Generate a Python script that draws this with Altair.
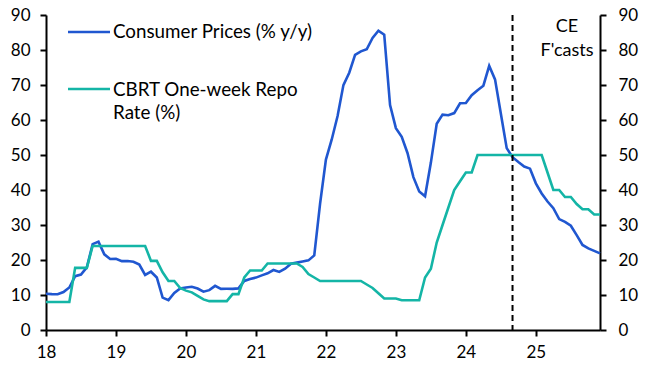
import altair as alt
import pandas as pd

years = [18, 19, 20, 21, 22, 23, 24, 25]

cpi = [
    10.35, 10.26, 10.23, 10.85, 12.15, 15.39, 15.85, 17.90, 24.52, 25.24, 21.62, 20.30,
    20.35, 19.67, 19.71, 19.50, 18.71, 15.72, 16.65, 15.01, 9.26, 8.55, 10.56, 11.84,
    12.15, 12.37, 11.86, 10.94, 11.39, 12.62, 11.76, 11.77, 11.75, 11.89, 14.03, 14.60,
    14.97, 15.61, 16.19, 17.14, 16.59, 17.53, 18.95, 19.25, 19.58, 19.89, 21.31, 36.08,
    48.69, 54.44, 61.14, 69.97, 73.50, 78.62, 79.60, 80.21, 83.45, 85.51, 84.39, 64.27,
    57.68, 55.18, 50.51, 43.68, 39.59, 38.21, 47.83, 58.94, 61.53, 61.36, 61.98, 64.77,
    64.86, 67.07, 68.50, 69.80, 75.45, 71.60, 61.78, 51.97, 49.38, 48.0, 46.7, 46.1,
    41.9, 39.0, 36.7, 34.8, 31.7, 30.9, 29.8, 27.1, 24.3, 23.3, 22.6, 21.9,
]

rate = [
    8, 8, 8, 8, 8, 17.75, 17.75, 17.75, 24, 24, 24, 24,
    24, 24, 24, 24, 24, 24, 19.75, 19.75, 16.5, 14, 14, 12,
    11.25, 10.75, 9.75, 8.75, 8.25, 8.25, 8.25, 8.25, 10.25, 10.25, 15, 17,
    17, 17, 19, 19, 19, 19, 19, 19, 18, 16, 15, 14,
    14, 14, 14, 14, 14, 14, 14, 13, 12, 10.5, 9, 9,
    9, 8.5, 8.5, 8.5, 8.5, 15, 17.5, 25, 30, 35, 40, 42.5,
    45, 45, 50, 50, 50, 50, 50, 50, 50, 50, 50, 50,
    50, 50, 45, 40, 40, 38, 38, 36, 34.5, 34.5, 33, 33,
]

forecast_start = 24 + 8 / 12  # Sep 2024

t = [18 + i / 12 for i in range(len(cpi))]
df = pd.DataFrame({"t": t, "cpi": cpi, "rate": rate})

FONT = "Lato"
BLUE = "#2057D0"
TEAL = "#14B5A6"

xscale = alt.Scale(domain=[18, 18 + 95 / 12], nice=False, zero=False)
yscale = alt.Scale(domain=[0, 90], nice=False)

xaxis = alt.Axis(values=years, format="d", title=None, grid=False, domainColor="black",
                 domainWidth=2, tickColor="black", tickWidth=2, tickSize=6,
                 labelFont=FONT, labelFontSize=17, labelColor="black", labelPadding=8,
                 labelFlush=False)

def yaxis(orient, pad):
    return alt.Axis(orient=orient, values=list(range(0, 91, 10)), title=None, grid=False,
                    domainColor="black", domainWidth=2, tickColor="black", tickWidth=2,
                    tickSize=6, labelFont=FONT, labelFontSize=17, labelColor="black",
                    labelPadding=pad)

base = alt.Chart(df)

cpi_line = base.mark_line(color=BLUE, strokeWidth=2.6).encode(
    x=alt.X("t:Q", scale=xscale, axis=xaxis),
    y=alt.Y("cpi:Q", scale=yscale, axis=yaxis("left", 10)),
)
rate_line = base.mark_line(color=TEAL, strokeWidth=2.6).encode(
    x=alt.X("t:Q", scale=xscale),
    y=alt.Y("rate:Q", scale=yscale, axis=yaxis("right", 12)),
)

vline = alt.Chart(pd.DataFrame({"t": [forecast_start]})).mark_rule(
    color="black", strokeWidth=2, strokeDash=[6, 4]
).encode(x=alt.X("t:Q", scale=xscale), y=alt.value(0), y2=alt.value(315))

# in-chart legend
leg1 = alt.Chart(pd.DataFrame({"a": [0]})).mark_rule(color=BLUE, strokeWidth=2.6).encode(
    x=alt.value(22), x2=alt.value(64), y=alt.value(17))
leg2 = alt.Chart(pd.DataFrame({"a": [0]})).mark_rule(color=TEAL, strokeWidth=2.6).encode(
    x=alt.value(22), x2=alt.value(64), y=alt.value(74))
txt1 = alt.Chart(pd.DataFrame({"a": [0]})).mark_text(
    align="left", baseline="middle", font=FONT, fontSize=18.8, color="black",
    text="Consumer Prices (% y/y)").encode(x=alt.value(67), y=alt.value(17))
txt2 = alt.Chart(pd.DataFrame({"a": [0]})).mark_text(
    align="left", baseline="middle", font=FONT, fontSize=18.8, color="black", lineHeight=23,
    text=["CBRT One-week Repo", "Rate (%)"]).encode(x=alt.value(67), y=alt.value(75))
txt3 = alt.Chart(pd.DataFrame({"a": [0]})).mark_text(
    align="center", baseline="middle", font=FONT, fontSize=18, color="black", lineHeight=24,
    text=["CE", "F'casts"]).encode(x=alt.value(521), y=alt.value(12))

chart = alt.layer(cpi_line, rate_line, vline, leg1, leg2, txt1, txt2, txt3).resolve_scale(
    y="independent"
).properties(
    width=554, height=315,
    autosize=alt.AutoSizeParams(type="none"),
    padding={"left": 46, "top": 15, "right": 46, "bottom": 45},
).configure_view(stroke=None)

chart.save("out.html", embed_options={"renderer": "svg", "actions": False})
